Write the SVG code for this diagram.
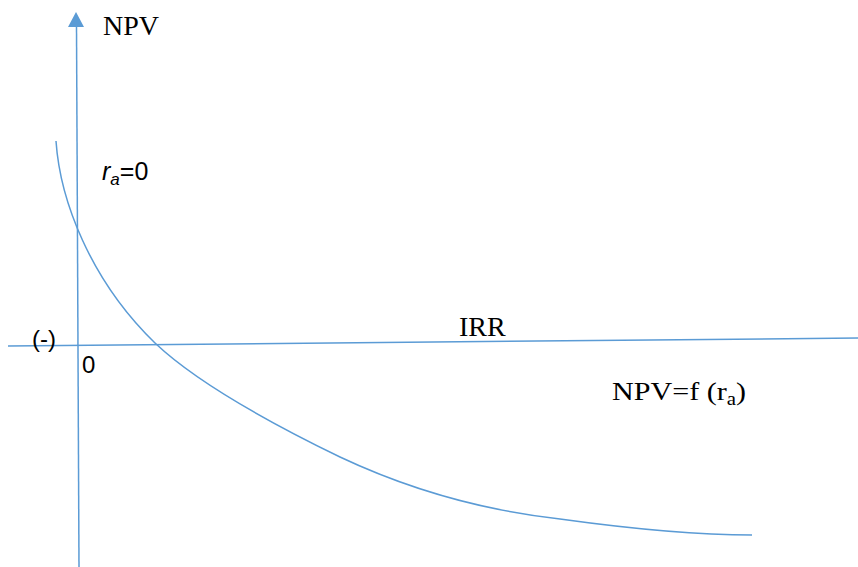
<svg xmlns="http://www.w3.org/2000/svg" width="858" height="567" viewBox="0 0 858 567">
<style>
.ax{stroke:#5B9BD5;stroke-width:1.5;fill:none}
.serif{font-family:"Liberation Serif","Times New Roman",serif;fill:#000}
.sans{font-family:"Liberation Sans",Arial,sans-serif;fill:#000}
</style>
<rect width="858" height="567" fill="#fff"/>
<g id="connectors">
<line id="y-axis" class="ax" x1="76.5" y1="26" x2="79" y2="567"/>
<polygon id="y-arrow" points="76,12 68,27 84,27" fill="#5B9BD5"/>
<line id="x-axis" class="ax" x1="8" y1="346" x2="858" y2="338"/>
<path id="npv-curve" class="ax" d="M56,141 C60,200 90,280 155,343 C195,381 270,423 340,457 C410,490 480,510 560,519 C625,528 690,535 752,535"/>
</g>
<g id="label-npv"><text class="serif" x="103" y="35" font-size="28">NPV</text></g>
<g id="label-ra0"><text class="sans" x="102" y="180" font-size="25"><tspan font-style="italic">r</tspan><tspan font-style="italic" font-size="17" dy="5">a</tspan><tspan dy="-5">=0</tspan></text></g>
<g id="label-minus"><text class="sans" x="32" y="347" font-size="24">(-)</text></g>
<g id="label-zero"><text class="sans" x="82" y="373" font-size="24">0</text></g>
<g id="label-irr"><text class="serif" x="459" y="336" font-size="28">IRR</text></g>
<g id="label-func"><text class="serif" x="612" y="400" font-size="26" textLength="134" lengthAdjust="spacingAndGlyphs">NPV=f (r<tspan font-size="18" dy="5">a</tspan><tspan dy="-5">)</tspan></text></g>
</svg>
